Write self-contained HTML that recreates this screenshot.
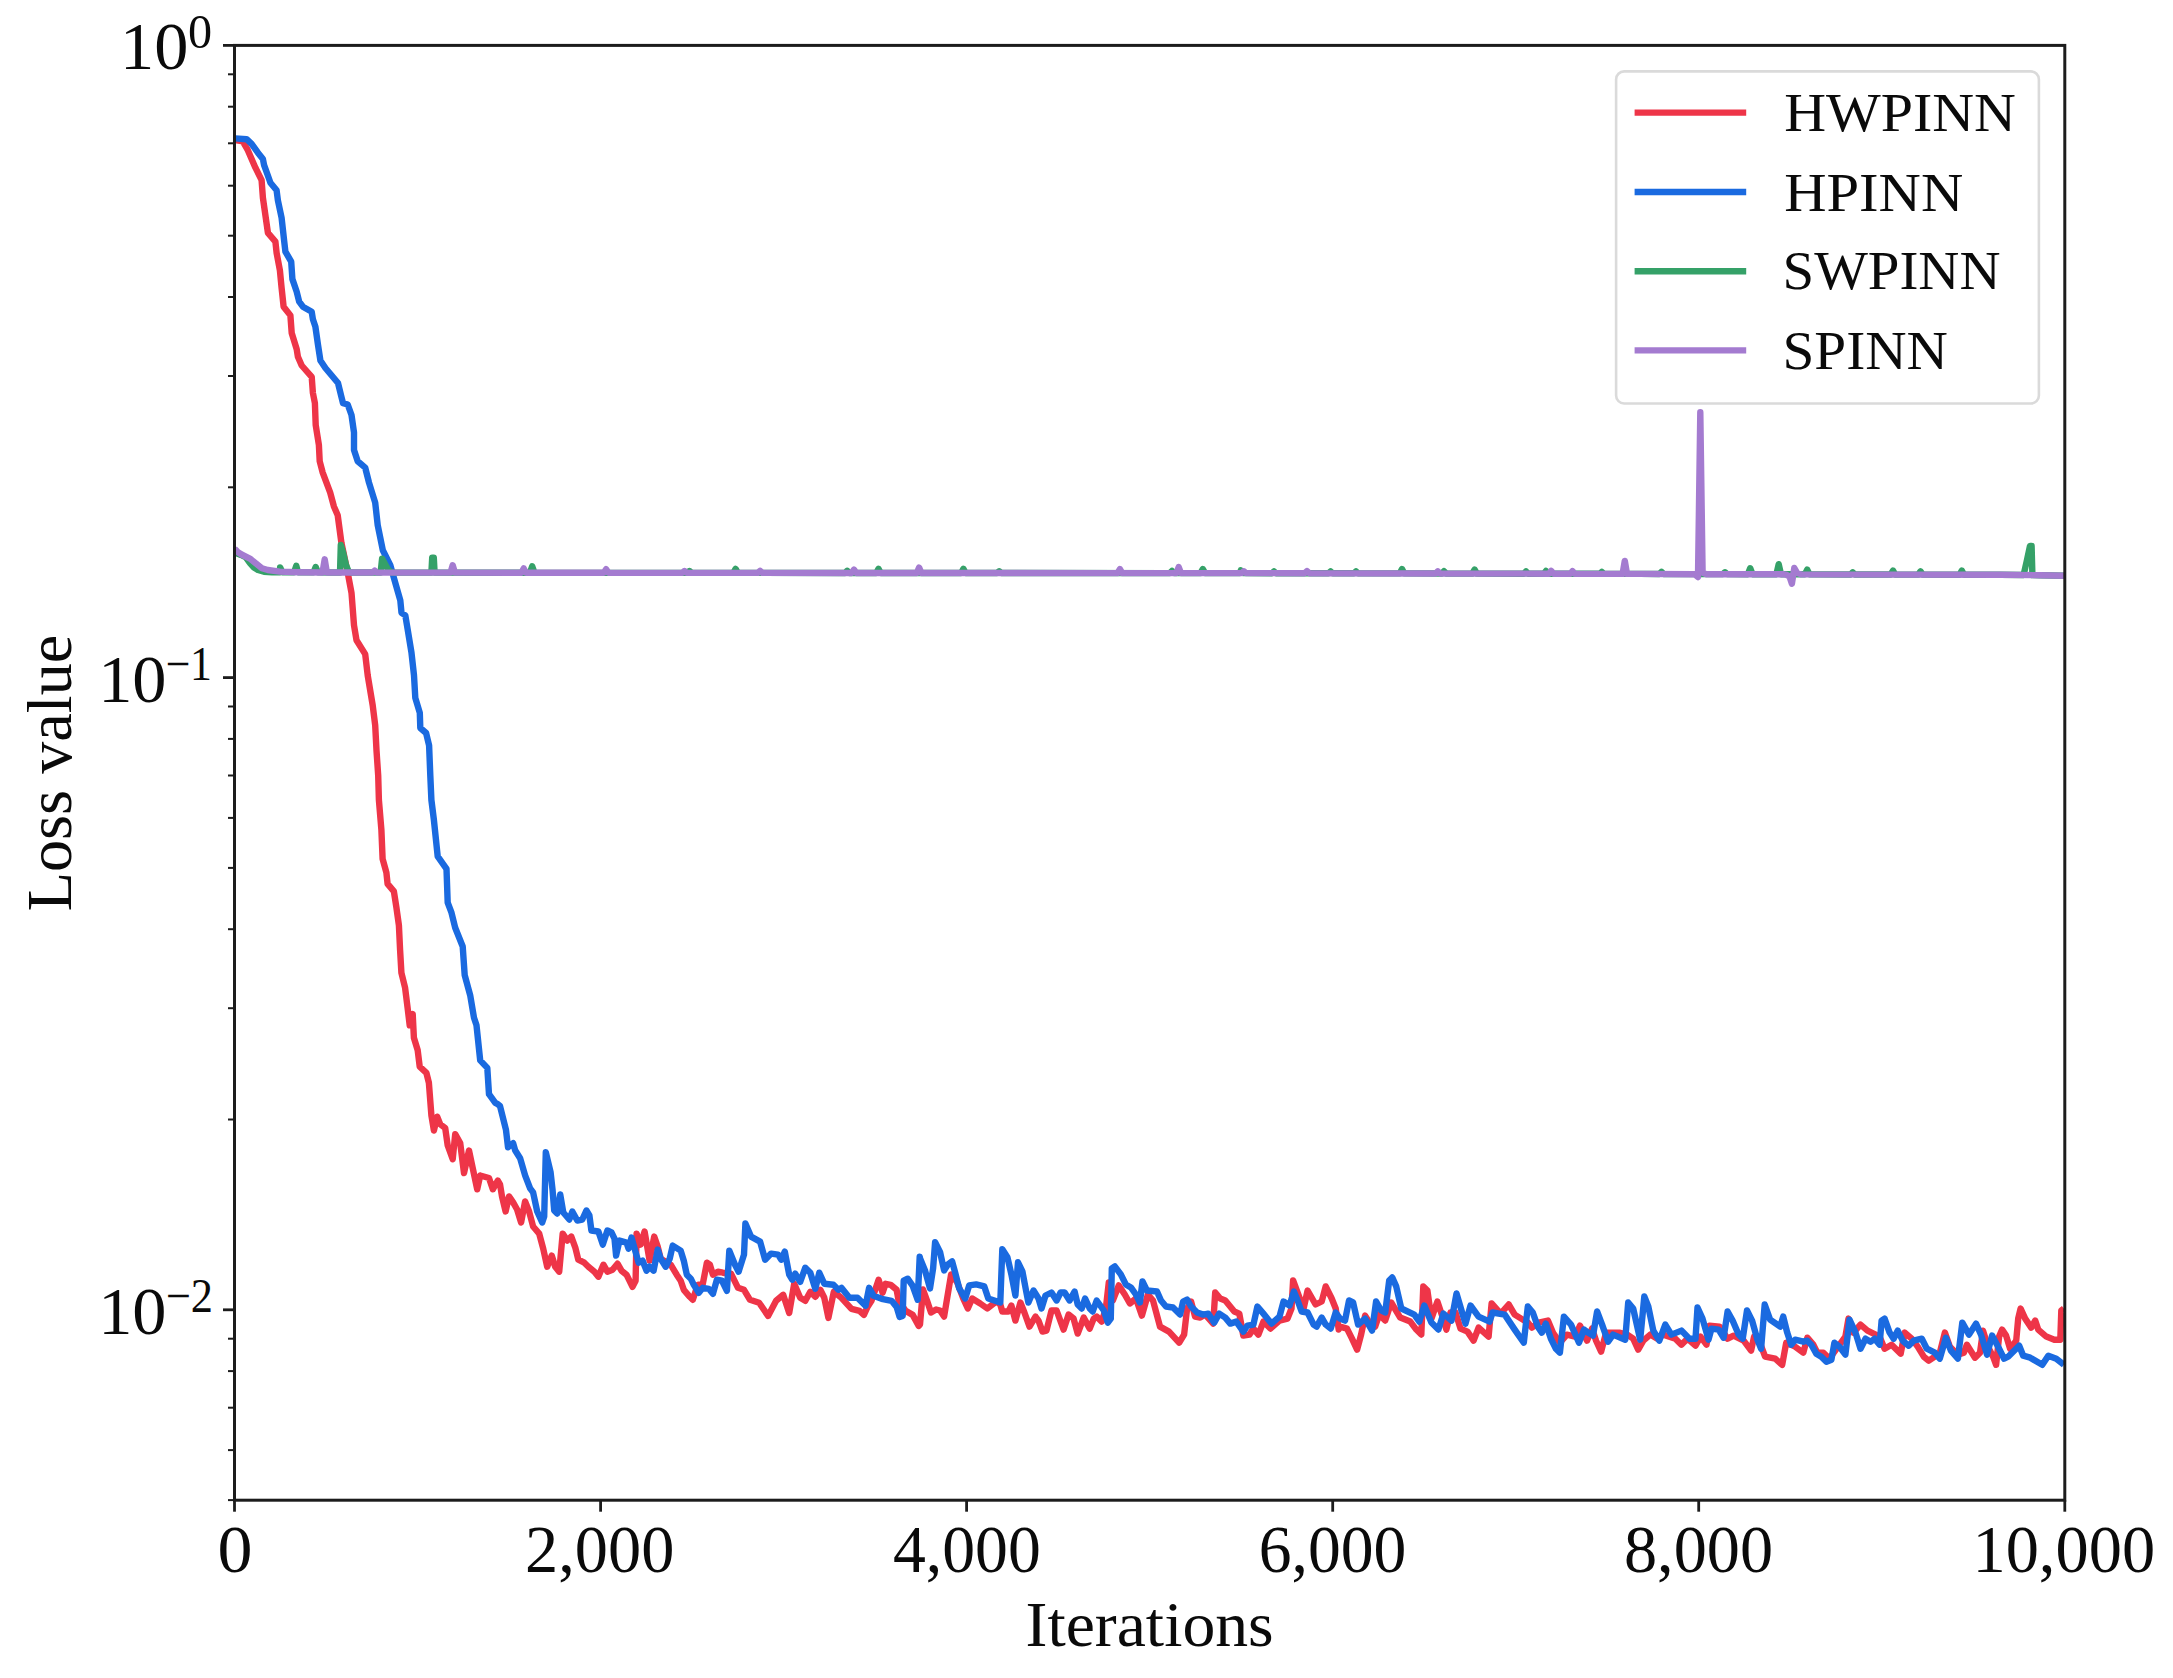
<!DOCTYPE html>
<html lang="en"><head><meta charset="utf-8"><title>Loss value vs Iterations</title>
<style>html,body{margin:0;padding:0;background:#fff}body{width:2173px;height:1678px;overflow:hidden}svg{display:block}text{font-family:'Liberation Serif','DejaVu Serif',serif;fill:#0a0a0a}</style></head><body>
<svg width="2173" height="1678" viewBox="0 0 2173 1678">
<rect x="0" y="0" width="2173" height="1678" fill="#ffffff"/>
<defs><clipPath id="ax"><rect x="234.5" y="45.4" width="1830.3" height="1454.8"/></clipPath></defs>
<g clip-path="url(#ax)">
<polyline points="235.3,140.2 242.8,141.4 247.8,150.2 255.4,167.7 261.6,180.2 262.9,197.8 265.4,215.3 267.9,232.8 275.4,241.6 276.6,252.8 279.9,270.4 281.6,287.9 283.6,306.7 290.4,315.4 291.7,333.0 296.7,349.2 297.9,356.7 301.7,365.5 311.7,376.8 312.9,393.0 314.9,403.1 315.7,425.0 318.9,445.1 319.7,461.3 322.7,472.6 330.2,492.6 333.9,506.4 337.7,515.2 341.4,542.7 347.7,572.7 351.5,592.8 354.0,625.3 356.5,640.3 365.2,654.1 367.7,675.4 372.7,705.4 375.2,725.4 376.5,750.5 378.2,775.5 378.9,800.0 381.4,830.0 382.6,858.8 386.4,872.6 387.6,883.9 393.9,891.4 396.4,907.6 398.9,925.2 400.1,950.2 401.4,972.7 405.1,987.8 407.6,1007.8 409.7,1025.3 412.7,1014.0 413.9,1037.8 417.7,1050.3 419.7,1066.6 426.4,1072.9 428.9,1082.9 431.4,1115.4 433.9,1130.5 437.2,1116.7 440.2,1124.2 445.2,1128.0 447.7,1145.5 452.7,1159.2 455.2,1134.2 460.2,1143.0 464.0,1173.0 469.0,1150.5 472.7,1168.0 477.2,1189.3 480.2,1175.5 489.0,1178.0 492.8,1189.3 497.8,1180.5 500.0,1184.3 502.0,1196.4 505.6,1211.5 509.0,1196.4 513.1,1202.4 517.1,1209.5 521.1,1222.5 525.1,1201.4 529.1,1211.5 533.1,1226.5 539.2,1233.6 543.2,1248.6 547.2,1266.7 551.8,1255.6 555.2,1266.7 559.2,1271.7 562.7,1233.6 567.3,1240.6 571.3,1236.6 575.3,1247.6 578.3,1259.7 584.3,1262.7 588.4,1266.7 594.4,1271.7 598.4,1276.7 603.4,1264.7 607.4,1271.7 612.5,1269.7 617.5,1263.7 621.5,1270.7 626.5,1274.7 632.5,1286.8 635.6,1280.7 636.6,1233.6 640.6,1244.6 644.6,1231.5 649.6,1260.7 654.2,1236.6 657.7,1246.6 660.7,1258.7 670.7,1264.7 676.7,1274.7 680.7,1280.7 683.8,1289.8 689.8,1296.8 692.8,1299.8 697.8,1284.8 702.8,1283.8 706.9,1262.7 709.9,1264.7 712.9,1274.7 717.9,1271.7 722.9,1272.7 731.0,1273.7 738.0,1287.8 744.0,1289.8 750.0,1299.8 759.1,1302.8 768.1,1315.9 776.1,1300.8 783.2,1294.8 789.2,1312.9 794.2,1283.8 800.2,1297.8 805.3,1300.8 810.3,1291.8 815.3,1296.8 820.3,1289.8 824.3,1297.8 828.4,1317.9 833.8,1291.8 841.4,1297.8 851.5,1308.9 859.5,1310.9 863.9,1314.9 867.5,1306.9 871.5,1300.8 878.6,1279.7 882.6,1292.8 885.6,1283.8 890.6,1284.8 896.6,1289.8 898.6,1300.8 905.7,1310.9 912.7,1314.9 918.7,1325.9 920.0,1324.6 923.0,1289.5 927.0,1300.5 931.0,1312.5 936.1,1309.5 940.1,1310.5 944.1,1316.6 948.1,1292.5 951.1,1274.4 957.2,1282.4 963.2,1298.5 967.8,1308.5 972.2,1298.5 980.2,1303.5 987.3,1308.5 996.3,1301.5 1000.3,1304.5 1002.3,1311.5 1008.4,1311.5 1011.4,1305.5 1015.4,1320.6 1020.4,1302.5 1024.4,1312.5 1029.5,1326.6 1035.5,1316.6 1038.5,1320.6 1042.5,1331.6 1046.5,1330.6 1051.5,1310.5 1056.6,1310.5 1063.6,1329.6 1068.6,1314.6 1073.6,1318.6 1077.7,1333.6 1083.7,1317.6 1089.7,1328.6 1093.7,1318.6 1096.7,1316.6 1101.8,1321.6 1105.8,1308.5 1108.8,1282.4 1112.8,1300.5 1118.8,1285.4 1124.8,1294.5 1129.9,1303.5 1135.9,1298.5 1141.9,1315.6 1147.9,1294.5 1153.0,1300.5 1160.0,1326.6 1169.0,1331.6 1179.1,1342.7 1184.1,1334.6 1187.1,1308.5 1191.1,1301.5 1195.1,1316.6 1200.2,1317.6 1205.2,1314.6 1213.2,1323.6 1215.2,1292.5 1220.2,1298.5 1225.3,1300.5 1234.3,1311.5 1239.3,1313.6 1243.3,1335.6 1249.4,1334.6 1253.4,1328.6 1258.4,1334.6 1263.4,1321.6 1270.4,1328.6 1279.5,1320.6 1287.5,1318.6 1291.5,1308.5 1293.1,1280.4 1297.6,1292.5 1303.6,1308.5 1307.6,1290.5 1315.6,1304.5 1321.7,1301.5 1325.7,1286.4 1331.7,1298.5 1335.7,1308.5 1338.7,1329.6 1340.0,1326.6 1347.0,1328.6 1352.0,1338.7 1357.1,1349.7 1361.1,1334.6 1365.1,1315.6 1370.1,1323.6 1375.1,1326.6 1379.2,1314.6 1385.2,1320.6 1391.2,1302.5 1400.2,1317.6 1410.3,1321.6 1416.3,1329.6 1421.3,1334.6 1423.3,1286.4 1427.4,1290.5 1431.4,1318.6 1437.4,1301.5 1442.4,1316.6 1446.4,1329.6 1450.5,1312.5 1455.5,1312.5 1460.5,1328.6 1467.5,1331.6 1473.6,1340.7 1478.6,1327.6 1488.6,1336.6 1491.6,1303.5 1500.7,1313.6 1508.7,1304.5 1514.7,1314.6 1522.8,1319.6 1527.8,1322.6 1531.8,1327.6 1538.8,1322.6 1547.9,1320.6 1552.9,1332.6 1559.9,1342.7 1566.9,1334.6 1575.0,1336.6 1580.0,1325.6 1587.0,1340.7 1592.0,1328.6 1596.1,1340.7 1601.1,1351.7 1606.1,1332.6 1619.2,1332.6 1627.2,1334.6 1633.2,1338.7 1638.2,1349.7 1643.3,1340.7 1650.3,1334.6 1657.3,1338.7 1663.3,1334.6 1675.4,1338.7 1681.4,1344.7 1687.4,1338.7 1695.5,1345.7 1700.5,1336.6 1706.5,1344.7 1709.5,1325.6 1719.6,1326.6 1727.6,1338.7 1733.6,1335.6 1743.7,1340.7 1751.1,1350.7 1754.1,1336.6 1759.1,1340.7 1765.1,1356.7 1775.2,1358.7 1782.2,1364.8 1786.2,1342.7 1795.2,1346.7 1803.3,1352.7 1807.3,1337.7 1813.3,1344.7 1817.3,1352.7 1823.4,1352.7 1829.4,1358.7 1845.4,1336.6 1848.5,1318.6 1853.5,1332.6 1860.5,1324.6 1867.5,1330.6 1875.6,1334.6 1879.6,1336.6 1884.6,1348.7 1891.6,1344.7 1900.7,1353.7 1904.7,1332.6 1911.7,1338.7 1917.7,1346.7 1923.8,1356.7 1928.8,1360.7 1934.8,1356.7 1939.8,1352.7 1944.9,1332.6 1949.9,1346.7 1957.9,1354.7 1963.9,1352.7 1966.9,1344.7 1975.0,1357.7 1980.0,1352.7 1983.0,1330.6 1988.0,1346.7 1993.1,1356.7 1996.1,1364.8 1999.1,1336.6 2002.1,1329.6 2006.1,1335.6 2010.1,1348.7 2016.2,1340.7 2018.2,1318.6 2020.6,1308.5 2025.2,1318.6 2031.2,1327.6 2035.2,1320.6 2038.2,1329.6 2046.3,1336.6 2054.3,1339.7 2060.3,1339.7 2061.3,1310.5 2063.9,1308.5" fill="none" stroke="#ee3548" stroke-width="6.40" stroke-linejoin="round" stroke-linecap="butt"/>
<polyline points="235.3,138.4 246.6,139.2 251.6,143.9 257.9,152.7 262.9,159.0 264.1,165.2 269.1,179.0 270.4,182.8 276.6,190.3 277.9,200.3 281.6,217.8 284.1,240.3 285.4,251.6 291.2,261.6 292.4,279.1 296.7,291.7 299.2,301.7 302.9,306.7 311.7,311.7 312.9,319.2 315.4,326.7 317.9,344.2 320.4,360.5 325.4,368.0 338.0,383.0 341.7,398.0 343.0,403.1 347.7,404.5 351.5,415.0 354.0,432.5 354.0,450.1 357.7,461.3 365.2,467.6 369.0,482.6 375.2,502.6 377.7,525.2 382.8,550.2 390.3,565.2 395.3,582.8 400.3,600.3 401.5,612.8 405.3,615.3 407.8,630.3 411.5,652.8 414.0,675.4 415.3,697.9 419.8,712.9 420.3,728.0 426.1,733.0 429.1,745.5 430.3,775.5 431.4,800.0 433.9,820.0 437.7,856.3 446.5,868.8 447.7,902.6 451.5,912.7 455.2,927.7 462.7,946.5 464.7,975.2 470.2,995.3 474.0,1017.8 476.5,1025.3 480.2,1060.4 487.3,1067.9 489.0,1094.2 495.3,1102.9 497.8,1104.2 500.0,1106.0 506.0,1130.1 508.0,1147.2 513.1,1143.2 515.1,1150.2 520.1,1158.2 525.1,1175.3 530.1,1188.4 533.1,1192.4 537.2,1211.5 542.2,1222.5 544.2,1216.5 545.8,1152.2 550.6,1172.3 552.6,1190.4 554.2,1210.5 557.2,1213.5 560.2,1194.4 563.3,1212.5 569.3,1219.5 572.3,1211.5 577.3,1220.5 582.3,1219.5 586.4,1210.5 589.4,1215.5 591.4,1230.5 598.4,1231.5 602.8,1244.6 607.4,1230.5 611.5,1232.5 614.5,1238.6 616.1,1255.6 619.5,1240.6 626.5,1242.6 628.5,1248.6 631.5,1237.6 634.6,1248.6 638.6,1262.7 642.6,1260.7 646.6,1270.7 649.6,1266.7 653.6,1270.7 657.7,1249.6 660.7,1258.7 665.7,1266.7 669.7,1258.7 672.7,1245.6 680.7,1250.6 683.8,1260.7 686.8,1274.7 690.8,1278.7 693.8,1284.8 698.8,1292.8 702.8,1287.8 708.9,1288.8 712.9,1293.8 716.9,1279.7 721.9,1280.7 726.9,1290.8 729.3,1250.6 735.0,1264.7 738.6,1271.7 744.0,1254.6 745.4,1223.5 751.0,1236.6 760.1,1241.6 765.1,1259.7 771.1,1253.6 778.1,1254.6 781.2,1259.7 784.8,1251.6 789.2,1274.7 792.2,1279.7 795.2,1273.7 800.2,1281.8 805.3,1267.7 810.3,1272.7 815.3,1288.8 819.3,1272.7 824.3,1283.8 833.4,1284.8 838.4,1289.8 841.4,1287.8 849.4,1297.8 857.5,1297.8 865.5,1305.8 869.1,1287.8 873.5,1295.8 881.6,1298.8 891.6,1300.8 896.6,1306.9 899.6,1316.9 902.7,1315.9 903.7,1280.7 907.7,1278.7 912.7,1285.8 917.7,1299.8 919.7,1256.6 920.0,1258.3 925.0,1270.4 930.0,1288.4 933.1,1268.4 935.1,1242.3 940.1,1252.3 944.1,1270.4 948.1,1264.3 952.1,1261.3 955.1,1272.4 959.2,1288.4 965.2,1298.5 969.2,1285.4 976.2,1284.4 984.3,1286.4 988.3,1298.5 1000.3,1302.5 1002.3,1249.3 1007.4,1257.3 1011.4,1274.4 1015.4,1295.5 1018.0,1262.3 1022.4,1271.4 1026.4,1292.5 1028.4,1302.5 1033.5,1290.5 1038.5,1298.5 1041.5,1308.5 1045.5,1295.5 1051.5,1292.5 1056.6,1300.5 1060.6,1292.5 1064.6,1292.5 1069.6,1300.5 1074.6,1291.5 1077.7,1304.5 1081.7,1308.5 1085.1,1298.5 1089.7,1308.5 1092.7,1311.5 1096.7,1300.5 1103.8,1310.5 1107.8,1322.6 1110.8,1318.6 1111.8,1268.4 1114.8,1266.4 1120.8,1274.4 1125.8,1284.4 1130.9,1287.4 1135.9,1294.5 1139.9,1302.5 1142.5,1281.4 1146.9,1290.5 1157.0,1291.5 1161.0,1300.5 1166.0,1306.5 1173.0,1307.5 1180.1,1314.6 1183.1,1301.5 1187.1,1299.5 1191.1,1306.5 1197.1,1312.5 1203.2,1314.6 1208.2,1313.6 1214.2,1322.6 1219.2,1313.6 1225.3,1317.6 1230.3,1323.6 1236.3,1321.6 1243.3,1331.6 1247.4,1325.6 1253.4,1324.6 1257.4,1306.5 1263.4,1313.6 1271.5,1323.6 1279.5,1316.6 1283.5,1301.5 1289.5,1305.5 1293.9,1291.5 1297.6,1300.5 1301.6,1311.5 1307.6,1312.5 1313.6,1324.6 1316.6,1326.6 1321.7,1317.6 1325.7,1324.6 1330.7,1328.6 1335.7,1312.5 1340.0,1318.6 1345.0,1320.6 1349.0,1300.5 1353.1,1302.5 1358.1,1324.6 1365.1,1318.6 1372.1,1330.6 1376.1,1301.5 1381.2,1310.5 1385.2,1312.5 1389.2,1280.4 1392.2,1277.4 1396.2,1286.4 1401.3,1308.5 1414.3,1314.6 1419.3,1321.6 1424.3,1305.5 1431.4,1322.6 1438.4,1329.6 1443.4,1313.6 1451.5,1320.6 1456.5,1293.5 1461.5,1310.5 1465.5,1323.6 1470.5,1305.5 1478.6,1316.6 1489.6,1321.6 1492.6,1312.5 1504.7,1314.6 1514.7,1329.6 1523.8,1342.7 1527.8,1306.5 1532.8,1312.5 1537.8,1326.6 1541.8,1332.6 1545.8,1323.6 1550.9,1338.7 1555.9,1348.7 1559.9,1352.7 1563.9,1316.6 1571.0,1324.6 1579.0,1342.7 1584.0,1329.6 1588.0,1332.6 1593.0,1335.6 1597.1,1311.5 1602.1,1324.6 1608.1,1341.7 1613.1,1334.6 1625.2,1339.7 1628.2,1302.5 1633.2,1308.5 1640.2,1339.7 1644.3,1296.5 1648.3,1306.5 1653.3,1330.6 1659.3,1340.7 1665.3,1324.6 1671.4,1334.6 1681.4,1330.6 1689.4,1338.7 1695.5,1338.7 1697.5,1307.5 1702.5,1318.6 1708.5,1339.7 1711.5,1328.6 1718.6,1329.6 1723.6,1337.7 1727.6,1311.5 1732.6,1320.6 1738.6,1334.6 1742.7,1338.7 1747.0,1310.5 1752.1,1320.6 1757.1,1338.7 1761.1,1348.7 1764.7,1304.5 1770.1,1319.6 1780.2,1326.6 1783.2,1316.6 1787.2,1332.6 1791.2,1344.7 1795.2,1339.7 1803.3,1341.7 1807.3,1340.7 1811.3,1344.7 1816.3,1353.7 1821.3,1356.7 1826.4,1361.8 1831.4,1359.7 1834.4,1342.7 1839.4,1346.7 1845.4,1354.7 1849.5,1319.6 1855.5,1332.6 1860.5,1348.7 1865.5,1338.7 1870.6,1341.7 1874.6,1338.7 1879.6,1344.7 1881.6,1320.6 1884.6,1318.6 1889.6,1332.6 1893.6,1338.7 1897.7,1330.6 1902.7,1340.7 1908.7,1345.7 1913.7,1340.7 1921.8,1338.7 1926.8,1348.7 1934.8,1352.7 1939.8,1358.7 1945.9,1337.7 1950.9,1350.7 1957.9,1358.7 1962.3,1322.6 1969.0,1334.6 1976.0,1323.6 1981.0,1334.6 1987.0,1354.7 1992.1,1335.6 1998.1,1346.7 2004.1,1358.7 2008.1,1356.7 2019.2,1345.7 2023.2,1355.7 2030.2,1357.7 2042.3,1364.8 2048.3,1355.7 2056.3,1358.7 2063.9,1364.8" fill="none" stroke="#1a6ae0" stroke-width="6.40" stroke-linejoin="round" stroke-linecap="butt"/>
<polyline points="234.5,552.5 241.0,555.0 246.0,557.5 250.0,563.0 254.0,567.5 258.0,570.0 264.0,571.8 272.0,572.3 277.9,572.2 280.0,572.2 280.1,567.4 282.3,572.2 294.1,572.3 296.3,565.8 298.0,572.3 298.5,572.3 313.5,572.4 315.7,567.0 317.9,572.4 330.0,572.5 340.0,572.5 340.8,545.0 343.2,553.0 346.0,565.0 348.6,571.5 351.0,572.5 380.6,572.5 382.1,558.6 385.0,564.0 388.5,570.2 392.0,572.6 431.4,572.6 432.2,557.6 433.8,557.6 434.6,572.6 529.9,572.7 532.2,566.2 534.5,572.7 687.3,572.9 689.5,571.0 691.7,572.9 700.0,572.9 733.3,572.9 735.6,568.9 737.9,572.9 845.0,573.0 847.2,570.8 849.4,573.0 876.2,573.0 878.5,568.9 880.8,573.0 961.1,573.0 963.4,568.9 965.7,573.0 997.0,573.0 999.2,571.2 1001.4,573.0 1169.8,573.1 1172.0,570.9 1174.2,573.1 1200.5,573.1 1202.8,569.0 1205.1,573.1 1238.5,573.1 1240.0,573.1 1240.8,570.4 1243.1,573.1 1271.8,573.2 1274.0,571.4 1276.2,573.2 1328.4,573.3 1330.6,571.4 1332.8,573.3 1353.8,573.3 1356.0,571.4 1358.2,573.3 1399.7,573.4 1402.0,569.1 1404.3,573.4 1441.8,573.5 1444.0,571.2 1446.2,573.5 1472.3,573.6 1474.6,569.5 1476.9,573.6 1523.8,573.7 1526.0,571.4 1528.2,573.7 1543.8,573.7 1546.0,571.0 1548.2,573.7 1599.6,573.8 1601.8,571.9 1604.0,573.8 1640.0,573.9 1659.3,574.0 1661.5,571.9 1663.7,574.0 1722.8,574.1 1725.0,572.2 1727.2,574.1 1747.9,574.2 1750.2,568.2 1752.5,574.2 1776.4,574.3 1778.7,564.2 1781.0,574.3 1784.0,574.3 1804.9,574.3 1807.2,569.6 1809.5,574.4 1850.5,574.5 1852.7,572.4 1854.9,574.5 1890.7,574.5 1893.0,570.6 1895.3,574.6 1918.2,574.6 1920.5,571.3 1922.8,574.6 1959.5,574.7 1961.8,570.6 1964.1,574.7 2000.0,574.8 2023.6,575.0 2027.0,560.0 2030.0,546.0 2031.6,546.0 2032.4,575.1 2040.0,575.2 2064.5,575.8 2064.5,575.8" fill="none" stroke="#35a168" stroke-width="6.40" stroke-linejoin="round" stroke-linecap="butt"/>
<polyline points="234.5,548.6 237.5,551.8 241.5,554.5 249.9,558.6 256.0,563.5 261.9,568.2 267.9,570.0 279.8,571.6 297.8,572.2 322.5,572.5 324.7,559.3 326.9,572.5 330.0,572.5 372.5,572.5 374.7,570.6 376.9,572.6 450.5,572.6 452.7,565.2 454.9,572.6 521.4,572.7 523.7,568.4 526.0,572.7 603.8,572.8 606.1,569.2 608.4,572.8 682.3,572.9 684.5,571.0 686.7,572.9 700.0,572.9 757.8,572.9 760.1,570.8 762.4,572.9 851.7,573.0 854.0,569.6 856.3,573.0 916.8,573.0 919.1,567.6 921.4,573.0 1117.6,573.1 1119.9,569.1 1122.2,573.1 1176.4,573.1 1178.7,567.1 1181.0,573.1 1240.0,573.1 1241.6,573.1 1243.8,571.2 1246.0,573.1 1304.8,573.2 1307.0,571.2 1309.2,573.2 1435.6,573.5 1437.8,571.4 1440.0,573.5 1548.9,573.7 1551.2,570.9 1553.5,573.7 1570.2,573.8 1572.5,571.2 1574.8,573.8 1622.6,573.9 1624.8,560.9 1627.0,573.9 1640.0,573.9 1694.6,574.3 1698.0,577.0 1700.3,412.3 1702.6,572.6 1706.0,574.2 1784.0,574.3 1786.0,574.6 1789.5,576.5 1791.9,583.8 1794.3,568.0 1797.0,572.8 1801.0,574.4 2000.0,574.8 2040.0,575.2 2064.5,575.8 2064.5,575.8" fill="none" stroke="#a47bd0" stroke-width="6.40" stroke-linejoin="round" stroke-linecap="butt"/>
</g>
<g stroke="#1c1c1c"><line x1="223.0" y1="45.4" x2="234.5" y2="45.4" stroke-width="2.8"/><line x1="223.0" y1="677.6" x2="234.5" y2="677.6" stroke-width="2.8"/><line x1="223.0" y1="1309.8" x2="234.5" y2="1309.8" stroke-width="2.8"/><line x1="228.0" y1="487.3" x2="234.5" y2="487.3" stroke-width="2"/><line x1="228.0" y1="376.0" x2="234.5" y2="376.0" stroke-width="2"/><line x1="228.0" y1="297.0" x2="234.5" y2="297.0" stroke-width="2"/><line x1="228.0" y1="235.7" x2="234.5" y2="235.7" stroke-width="2"/><line x1="228.0" y1="185.7" x2="234.5" y2="185.7" stroke-width="2"/><line x1="228.0" y1="143.3" x2="234.5" y2="143.3" stroke-width="2"/><line x1="228.0" y1="106.7" x2="234.5" y2="106.7" stroke-width="2"/><line x1="228.0" y1="74.3" x2="234.5" y2="74.3" stroke-width="2"/><line x1="228.0" y1="1119.5" x2="234.5" y2="1119.5" stroke-width="2"/><line x1="228.0" y1="1008.2" x2="234.5" y2="1008.2" stroke-width="2"/><line x1="228.0" y1="929.2" x2="234.5" y2="929.2" stroke-width="2"/><line x1="228.0" y1="867.9" x2="234.5" y2="867.9" stroke-width="2"/><line x1="228.0" y1="817.9" x2="234.5" y2="817.9" stroke-width="2"/><line x1="228.0" y1="775.5" x2="234.5" y2="775.5" stroke-width="2"/><line x1="228.0" y1="738.9" x2="234.5" y2="738.9" stroke-width="2"/><line x1="228.0" y1="706.5" x2="234.5" y2="706.5" stroke-width="2"/><line x1="228.0" y1="1500.1" x2="234.5" y2="1500.1" stroke-width="2"/><line x1="228.0" y1="1450.1" x2="234.5" y2="1450.1" stroke-width="2"/><line x1="228.0" y1="1407.7" x2="234.5" y2="1407.7" stroke-width="2"/><line x1="228.0" y1="1371.1" x2="234.5" y2="1371.1" stroke-width="2"/><line x1="228.0" y1="1338.7" x2="234.5" y2="1338.7" stroke-width="2"/><line x1="234.5" y1="1500.2" x2="234.5" y2="1511.7" stroke-width="2.8"/><line x1="600.6" y1="1500.2" x2="600.6" y2="1511.7" stroke-width="2.8"/><line x1="966.6" y1="1500.2" x2="966.6" y2="1511.7" stroke-width="2.8"/><line x1="1332.7" y1="1500.2" x2="1332.7" y2="1511.7" stroke-width="2.8"/><line x1="1698.7" y1="1500.2" x2="1698.7" y2="1511.7" stroke-width="2.8"/><line x1="2064.8" y1="1500.2" x2="2064.8" y2="1511.7" stroke-width="2.8"/></g>
<rect x="234.5" y="45.4" width="1830.3" height="1454.8" fill="none" stroke="#1c1c1c" stroke-width="3"/>
<text x="235.1" y="1572" font-size="68" text-anchor="middle" textLength="35.0" lengthAdjust="spacingAndGlyphs">0</text>
<text x="599.7" y="1572" font-size="68" text-anchor="middle" textLength="149.2" lengthAdjust="spacingAndGlyphs">2,000</text>
<text x="966.9" y="1572" font-size="68" text-anchor="middle" textLength="147.9" lengthAdjust="spacingAndGlyphs">4,000</text>
<text x="1332.5" y="1572" font-size="68" text-anchor="middle" textLength="147.6" lengthAdjust="spacingAndGlyphs">6,000</text>
<text x="1698.5" y="1572" font-size="68" text-anchor="middle" textLength="149.1" lengthAdjust="spacingAndGlyphs">8,000</text>
<text x="2063.8" y="1572" font-size="68" text-anchor="middle" textLength="182.7" lengthAdjust="spacingAndGlyphs">10,000</text>
<text x="120.0" y="69.4" font-size="68" textLength="68.3" lengthAdjust="spacingAndGlyphs">10</text>
<text x="187.9" y="47.9" font-size="48" textLength="24.1" lengthAdjust="spacingAndGlyphs">0</text>
<text x="98.2" y="701.6" font-size="68" textLength="68.3" lengthAdjust="spacingAndGlyphs">10</text>
<text x="165.4" y="680.1" font-size="48" textLength="46.6" lengthAdjust="spacingAndGlyphs">−1</text>
<text x="98.2" y="1333.8" font-size="68" textLength="68.3" lengthAdjust="spacingAndGlyphs">10</text>
<text x="165.7" y="1312.3" font-size="48" textLength="47.2" lengthAdjust="spacingAndGlyphs">−2</text>
<text x="1149.6" y="1645.5" font-size="63" text-anchor="middle" textLength="248.2" lengthAdjust="spacingAndGlyphs">Iterations</text>
<text transform="translate(70.5,773) rotate(-90)" font-size="64" text-anchor="middle" textLength="276.7" lengthAdjust="spacingAndGlyphs">Loss value</text>
<rect x="1616.1" y="71.4" width="422.8" height="332.1" rx="8" ry="8" fill="#ffffff" fill-opacity="0.8" stroke="#dadada" stroke-width="2.6"/>
<line x1="1634.6" y1="112.6" x2="1746.2" y2="112.6" stroke="#ee3548" stroke-width="6.40"/>
<text x="1784.2" y="131.0" font-size="55" textLength="231.8" lengthAdjust="spacingAndGlyphs">HWPINN</text>
<line x1="1634.6" y1="192.0" x2="1746.2" y2="192.0" stroke="#1a6ae0" stroke-width="6.40"/>
<text x="1784.2" y="210.6" font-size="55" textLength="179.0" lengthAdjust="spacingAndGlyphs">HPINN</text>
<line x1="1634.6" y1="271.2" x2="1746.2" y2="271.2" stroke="#35a168" stroke-width="6.40"/>
<text x="1782.5" y="289.4" font-size="55" textLength="218.0" lengthAdjust="spacingAndGlyphs">SWPINN</text>
<line x1="1634.6" y1="350.4" x2="1746.2" y2="350.4" stroke="#a47bd0" stroke-width="6.40"/>
<text x="1782.5" y="368.6" font-size="55" textLength="165.4" lengthAdjust="spacingAndGlyphs">SPINN</text>
</svg></body></html>
